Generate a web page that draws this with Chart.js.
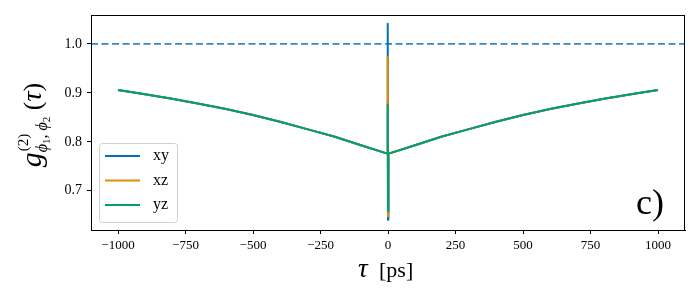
<!DOCTYPE html>
<html>
<head>
<meta charset="utf-8">
<script src="https://cdn.jsdelivr.net/npm/chart.js@4.4.0/dist/chart.umd.min.js"></script>
<style>
  html, body { margin:0; padding:0; background:#fff; }
  #wrap { width:700px; height:300px; }
</style>
</head>
<body>
<div id="wrap"><canvas id="chart" width="700" height="300"></canvas></div>
<script>
// tau in ps
const tau = [-1000,-900,-800,-700,-600,-500,-400,-300,-200,-100,-20,-2,-1,0,1,2,20,100,200,300,400,500,600,700,800,900,1000];

const gXY = [0.906,0.897,0.888,0.878,0.867,0.855,0.841,0.826,0.811,0.793,0.779,0.776,1.041,0.641,0.775,0.776,0.779,0.793,0.811,0.826,0.841,0.855,0.867,0.878,0.888,0.897,0.906];
const gXZ = [0.906,0.897,0.888,0.878,0.867,0.855,0.841,0.826,0.811,0.793,0.779,0.776,0.973,0.648,0.777,0.776,0.779,0.793,0.811,0.826,0.841,0.855,0.867,0.878,0.888,0.897,0.906];
const gYZ = [0.906,0.897,0.888,0.878,0.867,0.855,0.841,0.826,0.811,0.793,0.779,0.776,0.876,0.659,0.776,0.776,0.779,0.793,0.811,0.826,0.841,0.855,0.867,0.878,0.888,0.897,0.906];

const seriesNames = ["xy","xz","yz"];
const seriesColors = ["#0173b2","#de8f05","#029e73"];

const xTicks = [-1000,-750,-500,-250,0,250,500,750,1000];
const yTicks = [0.7,0.8,0.9,1.0];
const refLevel = 1.0;

const SERIF = "'Liberation Serif', 'Times New Roman', serif";

function pts(vals){
  return tau.map((t,i)=>({x:t, y:vals[i]}));
}

/* ---------- extra drawing: frame, labels, legend ---------- */
const decor = {
  id: "decor",
  afterDraw(chart){
    const ctx = chart.ctx;
    const a = chart.chartArea;
    ctx.save();

    // frame
    ctx.strokeStyle = "#000";
    ctx.lineWidth = 1;
    ctx.strokeRect(a.left+0.5, a.top+0.5, a.right-a.left-1, a.bottom-a.top);

    // legend
    const lx = 99, ly = 143, lw = 78, lh = 79, r = 3;
    ctx.fillStyle = "rgba(255,255,255,0.8)";
    ctx.strokeStyle = "#d0d0d0";
    ctx.beginPath();
    ctx.roundRect(lx+0.5, ly+0.5, lw, lh, r);
    ctx.fill();
    ctx.stroke();
    ctx.font = "16px " + SERIF;
    ctx.textBaseline = "middle";
    ctx.textAlign = "left";
    seriesNames.forEach((n,i)=>{
      const y = 156 + i*24.5;
      ctx.strokeStyle = seriesColors[i];
      ctx.lineWidth = 2;
      ctx.beginPath();
      ctx.moveTo(105, y);
      ctx.lineTo(140, y);
      ctx.stroke();
      ctx.fillStyle = "#000";
      ctx.fillText(n, 153, y);
    });

    // panel tag
    ctx.fillStyle = "#000";
    ctx.font = "36px " + SERIF;
    ctx.textAlign = "left";
    ctx.textBaseline = "alphabetic";
    ctx.fillText("c)", 636, 214);

    // x axis title: tau [ps]
    ctx.font = "italic 27px " + SERIF;
    ctx.fillText("τ", 358, 277);
    ctx.font = "22px " + SERIF;
    ctx.fillText("[ps]", 379, 277);

    // y axis title: g^(2)_{phi1,phi2}(tau)
    ctx.translate(41, 125);
    ctx.rotate(-Math.PI/2);
    const parts = [
      {t:"g", f:"italic 30px "+SERIF, dy:0},
      {t:"(2)", f:"15px "+SERIF, dy:-13, over:true},
      {t:"ϕ", f:"italic 16px "+SERIF, dy:6},
      {t:"1", f:"11px "+SERIF, dy:9},
      {t:", ", f:"16px "+SERIF, dy:6},
      {t:"ϕ", f:"italic 16px "+SERIF, dy:6},
      {t:"2", f:"11px "+SERIF, dy:9},
      {t:" (", f:"26px "+SERIF, dy:0},
      {t:"τ", f:"italic 28px "+SERIF, dy:0},
      {t:")", f:"26px "+SERIF, dy:0}
    ];
    // (2) sits above the subscript, so it does not add width
    let total = 0;
    parts.forEach(p=>{
      ctx.font = p.f;
      p.w = ctx.measureText(p.t).width;
      if(!p.over) total += p.w;
    });
    let cx = -total/2;
    parts.forEach(p=>{
      ctx.font = p.f;
      if(p.over){
        ctx.fillText(p.t, cx+1, p.dy);
      } else {
        ctx.fillText(p.t, cx, p.dy);
        cx += p.w;
      }
    });

    ctx.restore();
  }
};

const lineDs = (i, vals) => ({
  label: seriesNames[i],
  data: pts(vals),
  borderColor: seriesColors[i],
  borderWidth: 2,
  pointRadius: 0,
  fill: false,
  tension: 0,
  borderJoinStyle: "round",
  order: 3 - i
});

new Chart(document.getElementById("chart"), {
  type: "line",
  data: {
    datasets: [
      lineDs(0, gXY),
      lineDs(1, gXZ),
      lineDs(2, gYZ),
      {
        label: "ref",
        data: [{x:-1100, y:refLevel},{x:1100, y:refLevel}],
        borderColor: "#3a87c4",
        borderWidth: 1.6,
        borderDash: [7, 3.5],
        pointRadius: 0,
        order: 10
      }
    ]
  },
  options: {
    responsive: false,
    animation: false,
    layout: { padding: { top: 15, right: 15, left: 0, bottom: 0 } },
    plugins: { legend: { display: false }, tooltip: { enabled: false } },
    scales: {
      x: {
        type: "linear",
        min: -1100,
        max: 1100,
        afterBuildTicks: s => { s.ticks = xTicks.map(v=>({value:v})); },
        afterFit: s => { s.height = 70; },
        grid: { drawOnChartArea: false, drawTicks: true, tickLength: 4, color: "#000" },
        border: { display: true, color: "#000", width: 1 },
        ticks: {
          color: "#000",
          padding: 4,
          maxRotation: 0,
          font: { family: SERIF, size: 13 },
          callback: v => (v < 0 ? "\u2212" + Math.abs(v) : String(v))
        }
      },
      y: {
        min: 0.62,
        max: 1.059,
        afterBuildTicks: s => { s.ticks = yTicks.map(v=>({value:v})); },
        afterFit: s => { s.width = 91; },
        grid: { drawOnChartArea: false, drawTicks: true, tickLength: 4, color: "#000" },
        border: { display: true, color: "#000", width: 1 },
        ticks: {
          color: "#000",
          padding: 5,
          font: { family: SERIF, size: 14 },
          callback: v => v.toFixed(1)
        }
      }
    }
  },
  plugins: [decor]
});
</script>
</body>
</html>
